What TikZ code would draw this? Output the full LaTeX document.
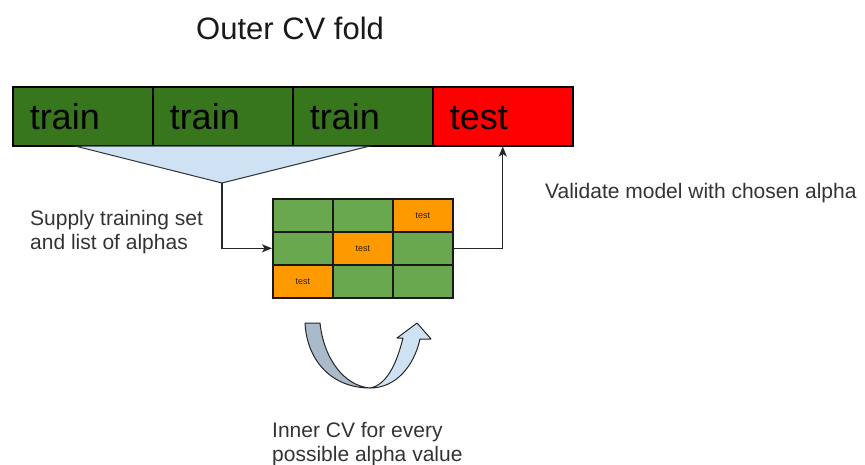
\documentclass[tikz,border=0pt]{standalone}
\usepackage{fontspec}
\setmainfont{Liberation Sans}
\usetikzlibrary{arrows.meta}
\definecolor{dgreen}{HTML}{38761D}
\definecolor{tred}{HTML}{FF0000}
\definecolor{lgreen}{HTML}{6AA84F}
\definecolor{orng}{HTML}{FF9900}
\definecolor{lblue}{HTML}{CFE2F3}
\definecolor{sblue}{HTML}{A9BACB}
\definecolor{txt}{HTML}{333333}
\begin{document}
\begin{tikzpicture}[x=1pt,y=-1pt,
  barcell/.style={draw=black, line width=1.5pt, inner xsep=17pt, inner ysep=0pt,
    text width=106pt, align=left, minimum height=59pt,
    font=\fontsize{36}{40}\selectfont, text height=26pt, text depth=0pt,
    anchor=north west, text=black},
  gcell/.style={draw=black!90, line width=1.6pt, minimum width=60pt, minimum height=33pt,
    inner sep=0pt, anchor=north west, fill=lgreen, font=\fontsize{9}{10}\selectfont, text=black!75!brown},
  gtest/.style={gcell, fill=orng},
  lbl/.style={anchor=base west, inner sep=0pt, font=\fontsize{21}{24}\selectfont, text=txt},
  conn/.style={draw=black!85, line width=1.3pt},
  tip/.style={-{Stealth[length=10pt,width=8pt,inset=2.5pt]}}
]
\useasboundingbox (0,0) rectangle (865,464);

% title
\node[anchor=base west, inner sep=0pt, font=\fontsize{31}{36}\selectfont, text=black!90] (title) at (196,39) {Outer CV fold};

% outer fold bar
\node[barcell, fill=dgreen] (tr1) at (12,86) {train};
\node[barcell, fill=dgreen] (tr2) at (152,86) {train};
\node[barcell, fill=dgreen] (tr3) at (292,86) {train};
\node[barcell, fill=tred] (te) at (432,86) {test};

% funnel
\coordinate (ftl) at (75,146);
\coordinate (ftr) at (370,146);
\coordinate (ftip) at (222,183);
\draw[fill=lblue, draw=black!80, line width=1pt] (ftl) -- (ftr) -- (ftip) -- cycle;

% inner grid
\node[gcell] (g11) at (272,198) {};
\node[gcell] (g12) at (332,198) {};
\node[gtest] (g13) at (392,198) {test};
\node[gcell] (g21) at (272,231) {};
\node[gtest] (g22) at (332,231) {test};
\node[gcell] (g23) at (392,231) {};
\node[gtest] (g31) at (272,264) {test};
\node[gcell] (g32) at (332,264) {};
\node[gcell] (g33) at (392,264) {};

% connectors
\draw[conn, tip] (ftip) |- (g21.west);
\draw[conn, tip] (g23.east) -| (te.south);

% labels
\node[lbl] (sup1) at (30,225) {Supply training set};
\node[lbl] (sup2) at (30,249) {and list of alphas};
\node[lbl] (val) at (545,198) {Validate model with chosen alpha};
\node[lbl] (inn1) at (272,437) {Inner CV for every};
\node[lbl] (inn2) at (272,461) {possible alpha value};

% U-turn arrow
\draw[fill=sblue, draw=black!85, line width=1pt, line join=round]
  (305,323) -- (320,323) .. controls (324,360) and (345,386) .. (370,388)
  .. controls (333,388) and (307,362) .. (305,323) -- cycle;
\draw[fill=lblue, draw=black!85, line width=1pt, line join=round]
  (370,388) .. controls (396,388) and (414,366) .. (420,339)
  -- (431,339) -- (417,323) -- (397,338) -- (403,338)
  .. controls (396,366) and (386,385) .. (370,388) -- cycle;
\end{tikzpicture}
\end{document}
